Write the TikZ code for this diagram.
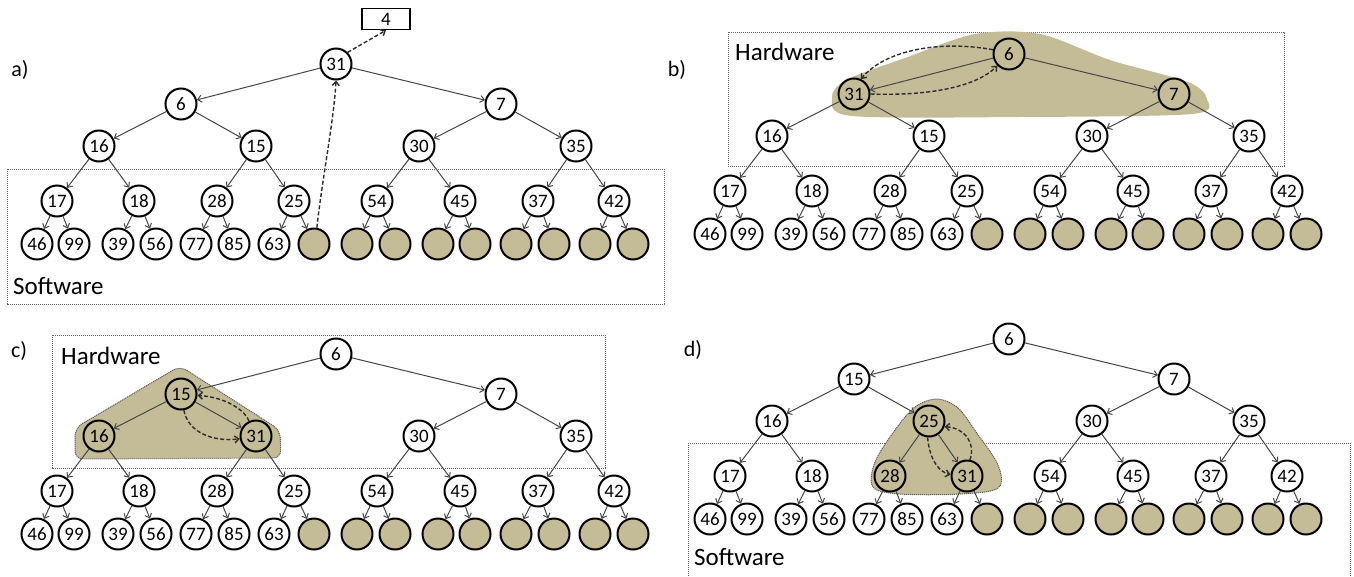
\documentclass[tikz,border=0pt]{standalone}
\usepackage{fontspec}
\setmainfont{Carlito}
\usetikzlibrary{arrows.meta}
\definecolor{tanfill}{RGB}{196,188,150}
\definecolor{edgegray}{RGB}{70,70,70}
\definecolor{boxgray}{RGB}{95,95,95}
\definecolor{dashgray}{RGB}{45,45,45}
\tikzset{
  hnode/.style={circle, draw=black, line width=2pt, fill=white, minimum size=31pt, inner sep=0pt, font=\fontsize{19}{19}\selectfont},
  tnode/.style={hnode, fill=tanfill},
  treeedge/.style={draw=edgegray, line width=1pt, -{Straight Barb[length=4pt,width=7pt]}},
  dasharr/.style={draw=dashgray, line width=1.4pt, dash pattern=on 4pt off 2.2pt, -{Straight Barb[length=4pt,width=7pt]}},
  regionbox/.style={draw=boxgray, line width=1pt, dash pattern=on 1.2pt off 0.8pt},
  hull/.style={fill=tanfill},
  hulledge/.style={fill=tanfill, draw=boxgray, line width=1pt, dash pattern=on 1.2pt off 0.8pt},
  regionlabel/.style={anchor=west, inner sep=0pt, font=\fontsize{25}{25}\selectfont},
  panellabel/.style={inner sep=0pt, font=\fontsize{22}{22}\selectfont},
}
\def\heappos{1/336/64, 2/181/104, 3/501/104, 4/99/146, 5/256/146, 6/419/146, 7/576/146, 8/57/201, 9/139/201, 10/217/201, 11/294/201, 12/377/201, 13/460/201, 14/538/201, 15/614/201, 16/37/244, 17/74/244, 18/118/244, 19/156/244, 20/196/244, 21/234/244, 22/274/244, 23/314/244, 24/357/244, 25/395/244, 26/438/244, 27/475/244, 28/516/244, 29/554/244, 30/595/244, 31/633/244}
\def\heaptail{12/54/hnode, 13/45/hnode, 14/37/hnode, 15/42/hnode, 16/46/hnode, 17/99/hnode, 18/39/hnode, 19/56/hnode, 20/77/hnode, 21/85/hnode, 22/63/hnode, 23/{}/tnode, 24/{}/tnode, 25/{}/tnode, 26/{}/tnode, 27/{}/tnode, 28/{}/tnode, 29/{}/tnode, 30/{}/tnode, 31/{}/tnode}
\newcommand\drawheap[4]{%
  \foreach \i/\x/\y in \heappos {\coordinate (#1p\i) at (#2+\x,#3+\y);}
  \foreach \i/\lab/\st in {#4} {\node[\st] (#1\i) at (#1p\i) {\lab};}
  \foreach \i/\lab/\st in \heaptail {\node[\st] (#1\i) at (#1p\i) {\lab};}
  \foreach \i in {1,...,15} {
    \pgfmathtruncatemacro\lc{2*\i}
    \pgfmathtruncatemacro\rc{2*\i+1}
    \draw[treeedge] (#1\i) -- (#1\lc);
    \draw[treeedge] (#1\i) -- (#1\rc);
  }
}
\begin{document}
\begin{tikzpicture}[x=1pt,y=-1pt]
\useasboundingbox (0,0) rectangle (1354,576);

% ---------- panel a ----------
\draw[regionbox] (7,169) rectangle (664,304);
\node[regionlabel] (swa) at (13,286) {Software};
\node[panellabel] (la) at (20,70) {a)};
\drawheap{a}{0}{0}{1/31/hnode, 2/6/hnode, 3/7/hnode, 4/16/hnode, 5/15/hnode, 6/30/hnode, 7/35/hnode, 8/17/hnode, 9/18/hnode, 10/28/hnode, 11/25/hnode}
\node[draw=black, line width=1.5pt, minimum width=48pt, minimum height=21pt, inner sep=0pt, font=\fontsize{19}{19}\selectfont] (box4) at (386,19) {4};
\draw[dasharr] (a23.80) .. controls (322,180) and (334,120) .. (a1.south);
\draw[dasharr] (a1.45) -- (box4.south);

% ---------- panel b ----------
\draw[regionbox] (728,32) rectangle (1284,166);
\fill[hull] plot[smooth cycle, tension=0.5] coordinates {(832,98) (846,80) (905,58) (975,34) (1040,34) (1110,60) (1188,82) (1207,99) (1192,114) (1020,117) (852,116)};
\node[regionlabel] (hwb) at (735,52) {Hardware};
\node[panellabel] (lb) at (677,70) {b)};
\drawheap{b}{673}{-10}{1/6/tnode, 2/31/tnode, 3/7/tnode, 4/16/hnode, 5/15/hnode, 6/30/hnode, 7/35/hnode, 8/17/hnode, 9/18/hnode, 10/28/hnode, 11/25/hnode}
\draw[dasharr] (b1.165) .. controls (940,40) and (885,50) .. (b2.65);
\draw[dasharr] (b2.east) .. controls (925,96) and (975,88) .. (b1.225);

% ---------- panel c ----------
\draw[regionbox] (52,335) rectangle (605,468);
\draw[hulledge, rounded corners=8pt] (180,366) -- (280,430) -- (281,458) -- (75,459) -- (75,428) -- cycle;
\node[regionlabel] (hwc) at (61,356) {Hardware};
\node[panellabel] (lc) at (19,351) {c)};
\drawheap{c}{0}{290}{1/6/hnode, 2/15/tnode, 3/7/hnode, 4/16/tnode, 5/31/tnode, 6/30/hnode, 7/35/hnode, 8/17/hnode, 9/18/hnode, 10/28/hnode, 11/25/hnode}
\draw[dasharr] (c2.-80) .. controls (188,432) and (212,442) .. (c5.190);
\draw[dasharr] (c5.115) .. controls (245,410) and (225,397) .. (c2.-5);

% ---------- panel d ----------
\draw[regionbox] (688,443) -- (1350,443) -- (1350,590) (688,443) -- (688,590);
\draw[hulledge] plot[smooth cycle, tension=0.55] coordinates {(937,399) (958,408) (976,432) (998,465) (998,488) (960,494) (900,494) (873,487) (875,462) (895,430) (915,407)};
\node[regionlabel] (swd) at (694,557) {Software};
\node[panellabel] (ld) at (693,350) {d)};
\drawheap{d}{673}{275}{1/6/hnode, 2/15/hnode, 3/7/hnode, 4/16/hnode, 5/25/tnode, 6/30/hnode, 7/35/hnode, 8/17/hnode, 9/18/hnode, 10/28/tnode, 11/31/tnode}
\draw[dasharr] (d5.-95) .. controls (930,462) and (940,472) .. (d11.175);
\draw[dasharr] (d11.80) .. controls (976,445) and (966,428) .. (d5.-20);
\end{tikzpicture}
\end{document}
